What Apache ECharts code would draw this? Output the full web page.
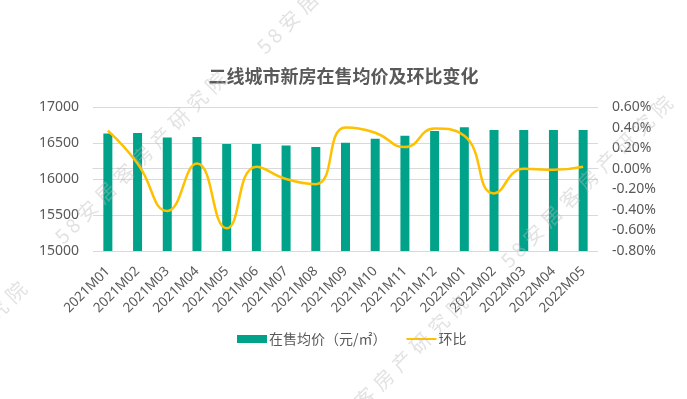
<!DOCTYPE html>
<html>
<head>
<meta charset="utf-8">
<script src="https://cdn.jsdelivr.net/npm/echarts@6/dist/echarts.min.js"></script>
<style>
  html, body { margin: 0; padding: 0; background: #fff; }
  #chart { width: 687px; height: 399px; }
</style>
</head>
<body>
<div id="chart"></div>
<script>
// 二线城市新房在售均价及环比变化
const months = ['2021M01', '2021M02', '2021M03', '2021M04', '2021M05', '2021M06', '2021M07', '2021M08', '2021M09',
  '2021M10', '2021M11', '2021M12', '2022M01', '2022M02', '2022M03', '2022M04', '2022M05'];
const avgPrice = [16631, 16640, 16575, 16584, 16486, 16486, 16467, 16445, 16505,
  16560, 16600, 16668, 16718, 16682, 16682, 16682, 16682];
const momChange = [0.37, 0.05, -0.41, 0.05, -0.58, 0.02, -0.10, -0.15, 0.40,
  0.35, 0.21, 0.39, 0.32, -0.24, 0.00, -0.01, 0.02];
const watermarkText = '58安居客房产研究院';

const FONT = "'Noto Sans', 'Noto Sans CJK SC', sans-serif";
const TEXT_COLOR = '#595959';

// 水印：逐字沿45度斜线排开
function watermark(x, y, fromEnd) {
  const chars = watermarkText.split('');
  const w = c => (/[0-9]/.test(c) ? 12 : 23);
  // 每个字中心沿斜线的距离
  const offs = [0];
  for (let i = 1; i < chars.length; i++) {
    offs.push(offs[i - 1] + (w(chars[i - 1]) + w(chars[i])) / 2 + 3);
  }
  const base = fromEnd ? offs[offs.length - 1] : 0;
  return chars.map((c, i) => {
    const d = (offs[i] - base) * Math.SQRT1_2;
    return {
      type: 'text',
      x: x + d,
      y: y - d,
      rotation: Math.PI / 4,
      z: 100,
      silent: true,
      style: {
        text: c,
        fill: 'rgba(185,185,185,0.42)',
        font: '20px "Noto Sans CJK SC", sans-serif',
        align: 'center',
        verticalAlign: 'middle'
      }
    };
  });
}

function renderChart() {
  const dom = document.getElementById('chart');
  const chart = echarts.init(dom);
  const option = {
    backgroundColor: '#fff',
    textStyle: { fontFamily: FONT },
    title: {
      text: '二线城市新房在售均价及环比变化',
      left: 'center',
      top: 62,
      textStyle: {
        fontFamily: "'Noto Sans CJK SC', sans-serif",
        fontSize: 18,
        fontWeight: 'bold',
        color: TEXT_COLOR
      }
    },
    grid: {
      left: 93,
      right: 89,
      top: 107,
      bottom: 148
    },
    legend: {
      bottom: 48,
      left: 232,
      itemGap: 19,
      itemWidth: 30,
      itemHeight: 8,
      textStyle: {
        fontFamily: "'Noto Sans CJK SC', sans-serif",
        fontSize: 14,
        color: TEXT_COLOR,
        padding: [0, 0, 0, -3]
      },
      data: [
        { name: '在售均价（元/㎡）', icon: 'rect' },
        { name: '环比', itemStyle: { opacity: 0 } }
      ]
    },
    xAxis: [
      {
        type: 'category',
        data: months,
        axisLine: { lineStyle: { color: '#d9d9d9' } },
        axisTick: { show: false },
        axisLabel: {
          rotate: 45,
          interval: 0,
          margin: 18,
          fontSize: 13.5,
          color: TEXT_COLOR
        }
      }
    ],
    yAxis: [
      {
        type: 'value',
        min: 15000,
        max: 17000,
        interval: 500,
        axisLine: { show: false },
        axisTick: { show: false },
        axisLabel: { fontSize: 14, color: TEXT_COLOR, margin: 14, formatter: v => String(v) },
        splitLine: { lineStyle: { color: '#d9d9d9' } }
      },
      {
        type: 'value',
        min: -0.8,
        max: 0.6,
        interval: 0.2,
        axisLine: { show: false },
        axisTick: { show: false },
        axisLabel: {
          fontSize: 14,
          color: TEXT_COLOR,
          margin: 14,
          formatter: v => v.toFixed(2) + '%'
        },
        splitLine: { show: false }
      }
    ],
    series: [
      {
        name: '在售均价（元/㎡）',
        type: 'bar',
        yAxisIndex: 0,
        barWidth: 9,
        data: avgPrice,
        itemStyle: { color: '#00A38A' }
      },
      {
        name: '环比',
        type: 'line',
        yAxisIndex: 1,
        smooth: 0.5,
        symbol: 'none',
        data: momChange,
        lineStyle: { color: '#FFC000', width: 2.5 },
        itemStyle: { color: '#FFC000' }
      }
    ],
    graphic: [].concat(
      watermark(62, 236, false),
      watermark(264, 46, false),
      watermark(508, 260, false),
      watermark(16, 292, true),
      watermark(457, 306, true)
    )
  };
  chart.setOption(option, true);
}
renderChart();
</script>
</body>
</html>
